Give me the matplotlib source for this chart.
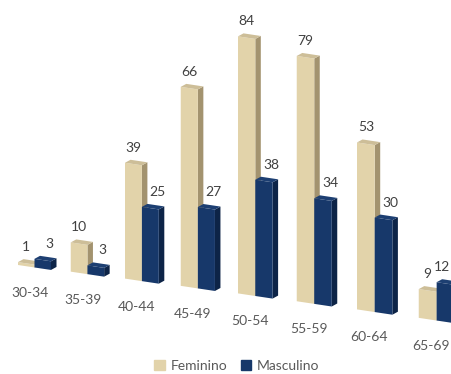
import matplotlib.pyplot as plt
from matplotlib.patches import Patch

# Données
groupes = ["30-34", "35-39", "40-44", "45-49", "50-54", "55-59", "60-64", "65-69"]
feminino = [1, 10, 39, 66, 84, 79, 53, 9]
masculino = [3, 3, 25, 27, 38, 34, 30, 12]
series = ["Feminino", "Masculino"]

# couleurs : face avant, côté, dessus
couleurs = [("#E2D3AA", "#A3936F", "#CDBE98"),
            ("#17386A", "#0D2447", "#1D3F72")]

plt.rcParams['font.family'] = ['Lato', 'DejaVu Sans']


# Petite projection "3D" façon Excel : la base descend vers la droite
def base_x(i):
    return 18 + 52 * i + 0.75 * i ** 2


def base_y(i):
    return 265 + 6.5 * i + 0.15 * i ** 2


def echelle(i):
    return 2.88 + 0.045 * i


pente = 0.15      # pente de la base
dx, dy = 5.5, -3  # profondeur des barres


def barre(ax, i, j, valeur):
    larg = 16.5 + 0.2 * i
    x0 = base_x(i) + j * larg
    x1 = x0 + larg
    y0 = base_y(i) + pente * (x0 - base_x(i))
    y1 = base_y(i) + pente * (x1 - base_x(i))
    h = valeur * echelle(i)
    avant, cote, dessus = couleurs[j]
    # côté droit
    ax.fill([x1, x1 + dx, x1 + dx, x1], [y1, y1 + dy, y1 - h + dy, y1 - h],
            color=cote, lw=0)
    # face avant
    ax.fill([x0, x1, x1, x0], [y0, y1, y1 - h, y0 - h], color=avant, lw=0)
    # dessus
    ax.fill([x0, x1, x1 + dx, x0 + dx], [y0 - h, y1 - h, y1 - h + dy, y0 - h + dy],
            color=dessus, lw=0)
    # étiquette de valeur (Excel la garde dans la zone du graphique)
    decal = 0 if j == 0 else 7
    xt = min((x0 + x1) / 2 + decal, 442)
    ax.text(xt, min(y0, y1) - h - 9, str(valeur),
            ha="center", va="bottom", fontsize=10, color="#404040")


fig = plt.figure(figsize=(4.51, 3.74), dpi=100)
ax = fig.add_axes([0, 0, 1, 1])
ax.set_xlim(0, 451)
ax.set_ylim(374, 0)
ax.axis("off")

for i, g in enumerate(groupes):
    barre(ax, i, 0, feminino[i])
    barre(ax, i, 1, masculino[i])
    ax.text(base_x(i) + 12, base_y(i) + 28, g, ha="center", va="center",
            fontsize=10, color="#595959")

poignees = [Patch(color=couleurs[0][0]), Patch(color=couleurs[1][0])]
fig.legend(poignees, series, loc="center", bbox_to_anchor=(237 / 451, 1 - 366 / 374),
           ncol=2, frameon=False, fontsize=10, labelcolor="#595959",
           handlelength=0.75, handleheight=0.75, handletextpad=0.4, columnspacing=1.0)

fig.savefig("out.png", dpi=100)
